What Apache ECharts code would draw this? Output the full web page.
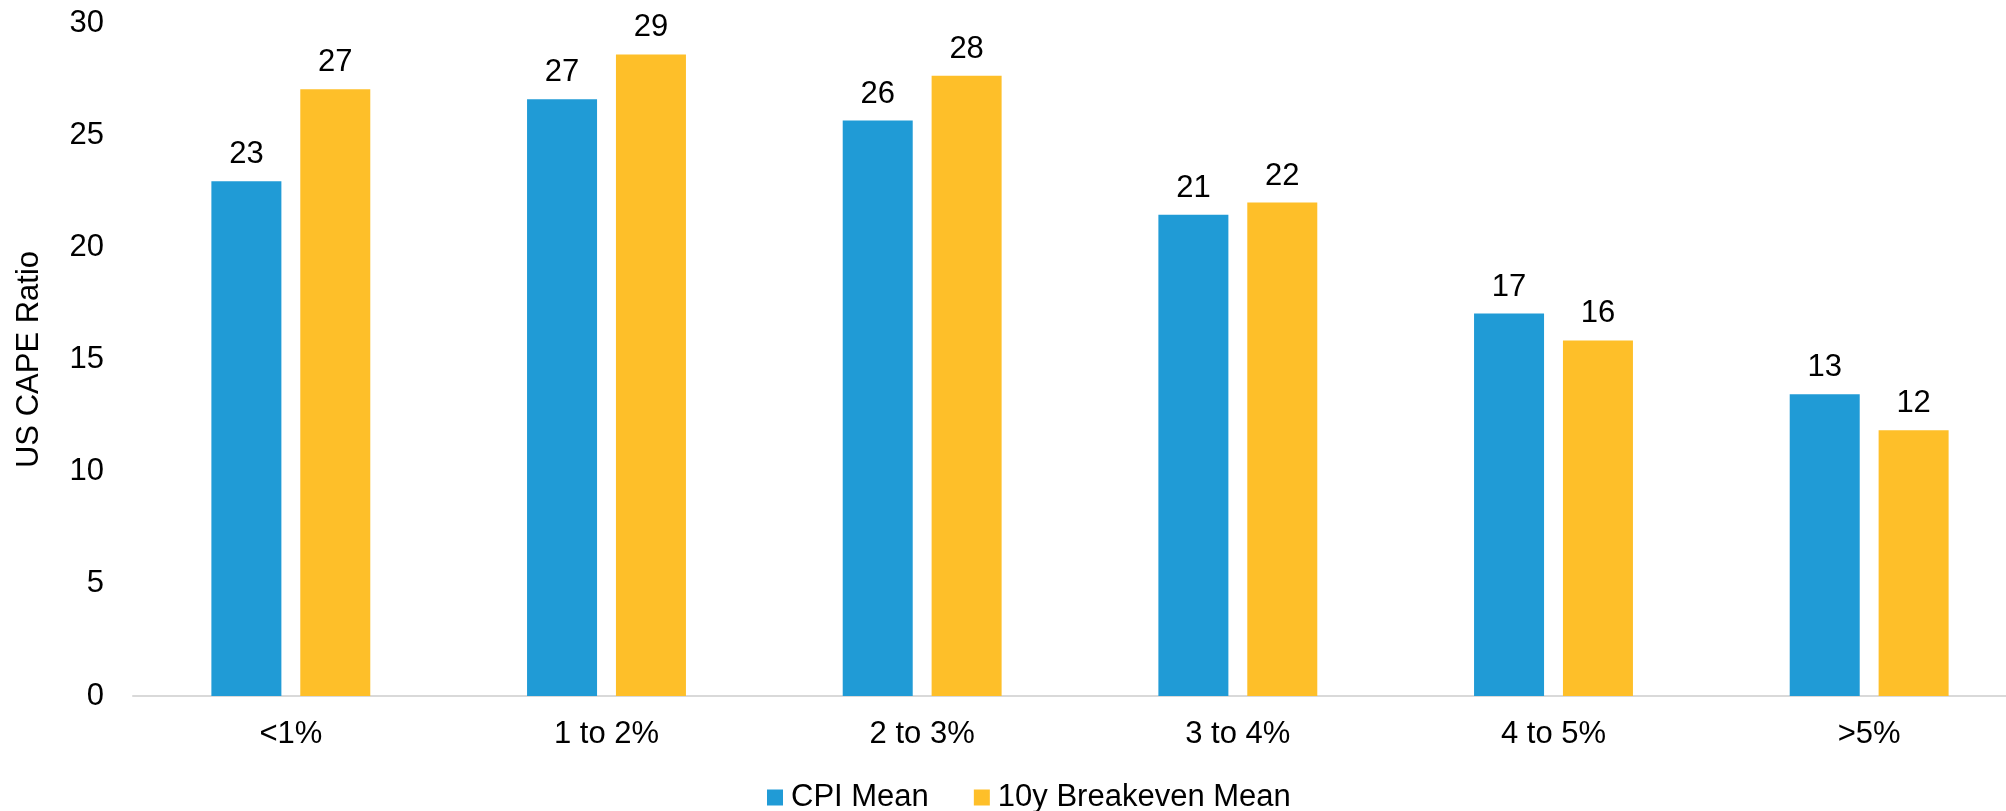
<!DOCTYPE html>
<html>
<head>
<meta charset="utf-8">
<script src="https://cdn.jsdelivr.net/npm/echarts@6/dist/echarts.min.js"></script>
<style>
html,body{margin:0;padding:0;background:#fff;overflow:hidden;width:2006px;height:811px;}
#main{width:2027px;height:811px;}
</style>
</head>
<body>
<div id="main"></div>
<script>
var categories = ['<1%', '1 to 2%', '2 to 3%', '3 to 4%', '4 to 5%', '>5%'];
var cpiMean = [22.95, 26.6, 25.65, 21.45, 17.05, 13.45];
var breakevenMean = [27.05, 28.6, 27.65, 22.0, 15.85, 11.85];
var yTicks = [0, 5, 10, 15, 20, 25, 30];
var seriesNames = ['CPI Mean', '10y Breakeven Mean'];

var FONT = 'Liberation Sans, Arial, sans-serif';
var chart = echarts.init(document.getElementById('main'));
var labelCfg = {
  show: true,
  position: 'top',
  distance: 11,
  color: '#000',
  fontSize: 31,
  fontFamily: FONT,
  formatter: function (p) { return Math.round(p.value); }
};
chart.setOption({
  animation: false,
  textStyle: { fontFamily: FONT },
  grid: { left: 133, top: 23, right: 0, bottom: 115, containLabel: false },
  legend: {
    data: seriesNames,
    left: 762,
    top: 777,
    itemWidth: 16,
    itemHeight: 16,
    itemGap: 45,
    icon: 'rect',
    textStyle: { fontSize: 31, color: '#000', fontFamily: FONT, padding: [0, 0, 0, 3] }
  },
  xAxis: {
    type: 'category',
    data: categories,
    axisLine: { show: true, lineStyle: { color: '#d9d9d9', width: 2 } },
    axisTick: { show: false },
    axisLabel: { fontSize: 31, color: '#000', margin: 23, fontFamily: FONT },
    splitLine: { show: false }
  },
  yAxis: {
    type: 'value',
    min: yTicks[0],
    max: yTicks[yTicks.length - 1],
    interval: yTicks[1] - yTicks[0],
    name: 'US CAPE Ratio',
    nameLocation: 'middle',
    nameGap: 88,
    nameRotate: 90,
    nameTextStyle: { fontSize: 31, color: '#000', fontFamily: FONT },
    axisLine: { show: false },
    axisTick: { show: false },
    splitLine: { show: false },
    axisLabel: { fontSize: 31, color: '#000', margin: 29, fontFamily: FONT }
  },
  series: [
    {
      name: seriesNames[0],
      type: 'bar',
      data: cpiMean,
      barWidth: 70,
      barGap: '27%',
      itemStyle: { color: '#209bd6' },
      label: labelCfg
    },
    {
      name: seriesNames[1],
      type: 'bar',
      data: breakevenMean,
      barWidth: 70,
      barGap: '27%',
      itemStyle: { color: '#febf29' },
      label: labelCfg
    }
  ]
});
</script>
</body>
</html>
